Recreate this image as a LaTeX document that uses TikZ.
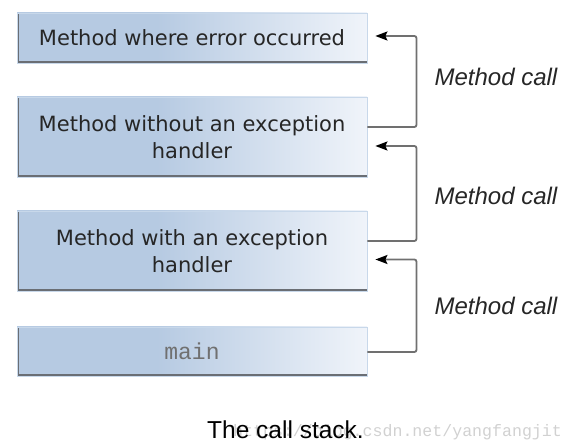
\documentclass[tikz,border=0pt]{standalone}
\usepackage{fontspec}
\setmainfont{Liberation Sans}
\setmonofont{Liberation Mono}
\newfontfamily\boxfont{DejaVu Sans}
\usetikzlibrary{calc,arrows.meta}
\definecolor{boxL}{HTML}{B6CAE2}
\definecolor{boxR}{HTML}{F0F4FA}
\definecolor{boxedge}{HTML}{C8D8EA}
\definecolor{shadowc}{HTML}{6A6E74}
\definecolor{linec}{HTML}{707070}
\definecolor{txtc}{HTML}{262626}
\pgfdeclarehorizontalshading{boxshade}{100bp}{color(0bp)=(boxL); color(25bp)=(boxL); color(45bp)=(boxL); color(75bp)=(boxR); color(100bp)=(boxR)}
\tikzset{
  stackbox/.style={draw=boxedge, line width=0.8pt, shading=boxshade,
    minimum width=350pt, inner sep=0pt, text=txtc, align=center,
    font=\boxfont\fontsize{21}{27}\selectfont,
    path picture={\draw[shadowc, line width=3pt]
      (path picture bounding box.north west) -- (path picture bounding box.south west)
      -- (path picture bounding box.south east);}},
  callarrow/.style={draw=linec, line width=1.8pt, rounded corners=2pt,
    -{Stealth[length=12pt,width=9pt,inset=2pt,fill=black,color=black]}},
  calllabel/.style={font=\fontsize{24}{28}\selectfont\itshape, text=txtc, inner sep=0pt, anchor=base},
}
\begin{document}
\begin{tikzpicture}[x=1pt,y=-1pt]
\useasboundingbox (0,0) rectangle (574,446);
\node[stackbox, minimum height=50pt] (b1) at (192,38) {Method where error occurred};
\node[stackbox, minimum height=80pt] (b2) at (192,137) {Method without an exception\\handler};
\node[stackbox, minimum height=80pt] (b3) at (192,251) {Method with an exception\\handler};
\node[stackbox, minimum height=49pt, text=linec, font=\fontsize{23}{27}\ttfamily] (b4) at (192,351.5) {main};
\draw[callarrow] ($(b2.east)+(0,-10)$) -- ++(49,0) |- ($(b1.east)+(8,-2)$);
\draw[callarrow] ($(b3.east)+(0,-10)$) -- ++(49,0) |- ($(b2.east)+(8,9)$);
\draw[callarrow] ($(b4.east)+(0,0.5)$) -- ++(49,0) |- ($(b3.east)+(8,8.5)$);
\node[calllabel] (l1) at (496,86) {Method call};
\node[calllabel] (l2) at (496,205) {Method call};
\node[calllabel] (l3) at (496,315) {Method call};
\node[anchor=base west, inner sep=0pt, text=black!18, font=\fontsize{16.6}{20}\ttfamily] (wm) at (233,437) {https://blog.csdn.net/yangfangjit};
\node[anchor=base west, inner sep=0pt, text=black, font=\fontsize{24.5}{28}\selectfont] (cap) at (207,439) {The call stack.};
\end{tikzpicture}
\end{document}
